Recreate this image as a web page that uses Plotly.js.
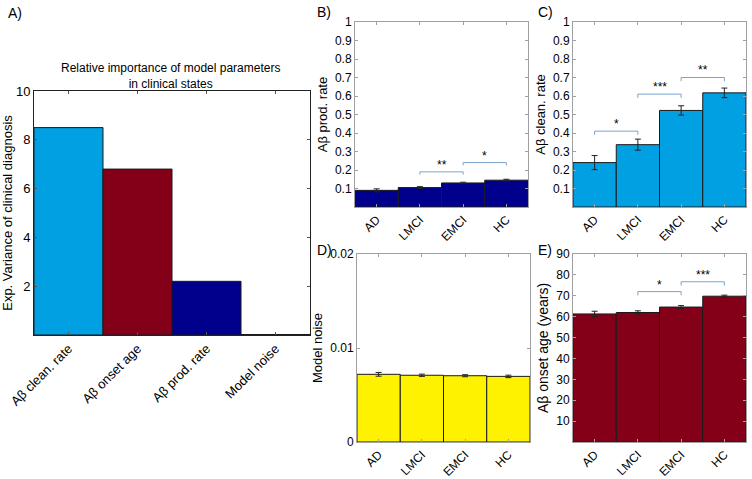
<!DOCTYPE html>
<html><head><meta charset="utf-8">
<script src="https://cdn.plot.ly/plotly-3.0.1.min.js"></script>
<style>body{margin:0;background:#fff}#chart{width:752px;height:479px}</style>
</head><body><div id="chart"></div>
<script>
// ---- data ----
const importanceLabels = ['Aβ clean. rate', 'Aβ onset age', 'Aβ prod. rate', 'Model noise'];
const importanceValues = [8.5, 6.8, 2.2, 0.02];

const groups = ['AD', 'LMCI', 'EMCI', 'HC'];

const prodRate = [0.09, 0.105, 0.13, 0.145];
const prodRateErr = [0.008, 0.005, 0.004, 0.005];
const prodSigPairs = [[1, 2], [2, 3]];
const prodSigLevel = [0.19, 0.24];
const prodSigStars = ['**', '*'];

const cleanRate = [0.24, 0.337, 0.522, 0.617];
const cleanRateErr = [0.038, 0.03, 0.025, 0.026];
const cleanSigPairs = [[0, 1], [1, 2], [2, 3]];
const cleanSigLevel = [0.41, 0.61, 0.70];
const cleanSigStars = ['*', '***', '**'];

const noise = [0.0072, 0.0071, 0.00705, 0.00698];
const noiseErr = [0.0002, 0.00012, 0.00011, 0.00013];

const onsetAge = [61.3, 62.0, 64.6, 69.8];
const onsetAgeErr = [1.3, 0.8, 0.7, 0.5];
const onsetSigPairs = [[1, 2], [2, 3]];
const onsetSigLevel = [72, 76.7];
const onsetSigStars = ['*', '***'];

// ---- layout helpers ----
const W = 752, H = 479;
const dx = (a, b) => [a / W, b / W];
const dy = (top, bottom) => [1 - bottom / H, 1 - top / H];

const cBlue = '#00a0e3', cRed = '#840018', cNavy = '#00008c', cYellow = '#fff200';
const edge = {color: '#1a1a1a', width: 1};
const fontFam = 'Liberation Sans, Arial, sans-serif';
const bracketColor = '#7aa3cf';

const traces = [];
const annotations = [];

traces.push({type: 'bar', x: importanceLabels, y: importanceValues, xaxis: 'x', yaxis: 'y',
  width: 1, marker: {color: [cBlue, cRed, cNavy, '#ffffff'], line: edge}, hoverinfo: 'none'});

function groupBars(vals, errs, color, ax, ay) {
  traces.push({type: 'bar', x: groups, y: vals, xaxis: ax, yaxis: ay, width: 1,
    marker: {color: color, line: edge},
    error_y: {type: 'data', array: errs, visible: true, color: '#222', thickness: 1, width: 3},
    hoverinfo: 'none'});
}
groupBars(prodRate, prodRateErr, cNavy, 'x2', 'y2');
groupBars(cleanRate, cleanRateErr, cBlue, 'x3', 'y3');
groupBars(noise, noiseErr, cYellow, 'x4', 'y4');
groupBars(onsetAge, onsetAgeErr, cRed, 'x5', 'y5');

function brackets(pairs, levels, stars, drop, ax, ay) {
  pairs.forEach((p, i) => {
    const y = levels[i];
    traces.push({type: 'scatter', mode: 'lines', xaxis: ax, yaxis: ay,
      x: [groups[p[0]], groups[p[0]], groups[p[1]], groups[p[1]]],
      y: [y - drop, y, y, y - drop],
      line: {color: bracketColor, width: 1}, hoverinfo: 'none', showlegend: false});
    annotations.push({xref: ax, yref: ay, x: (p[0] + p[1]) / 2, y: y, text: stars[i],
      showarrow: false, xanchor: 'center', yanchor: 'bottom', yshift: -2,
      font: {size: 12, color: '#000', family: fontFam}});
  });
}
brackets(prodSigPairs, prodSigLevel, prodSigStars, 0.015, 'x2', 'y2');
brackets(cleanSigPairs, cleanSigLevel, cleanSigStars, 0.02, 'x3', 'y3');
brackets(onsetSigPairs, onsetSigLevel, onsetSigStars, 1.8, 'x5', 'y5');

const tickFont = {size: 12, color: '#000', family: fontFam};
const titleFont = {size: 13, color: '#000', family: fontFam};
const boxAxis = {showline: true, linecolor: '#a0a0a0', linewidth: 1, mirror: 'ticks',
  ticks: 'inside', ticklen: 3, tickcolor: '#a0a0a0', showgrid: false, zeroline: false,
  tickfont: tickFont, fixedrange: true};
const xCat = Object.assign({}, boxAxis, {tickangle: -45, type: 'category', range: [-0.5, 3.5]});

function label(text, x, y) {
  return {xref: 'paper', yref: 'paper', x: x / W, y: 1 - y / H, xanchor: 'left', yanchor: 'middle',
    showarrow: false, text: text, font: {size: 14, color: '#000', family: fontFam}};
}

const layout = {
  width: W, height: H, margin: {l: 0, r: 0, t: 0, b: 0},
  paper_bgcolor: '#fff', plot_bgcolor: '#fff', showlegend: false,
  font: {family: fontFam, color: '#000'}, bargap: 0,
  xaxis: Object.assign({}, xCat, {domain: dx(34, 310), anchor: 'y', linecolor: '#222', tickcolor: '#555',
    tickfont: {size: 13, color: '#000', family: fontFam}}),
  yaxis: Object.assign({}, boxAxis, {domain: dy(91, 335), anchor: 'x', range: [0, 10],
    tickvals: [2, 4, 6, 8, 10], linecolor: '#222', tickcolor: '#555',
    tickfont: {size: 13, color: '#000', family: fontFam},
    title: {text: 'Exp. Variance of clinical diagnosis', font: titleFont, standoff: 6}}),
  xaxis2: Object.assign({}, xCat, {domain: dx(355, 528), anchor: 'y2'}),
  yaxis2: Object.assign({}, boxAxis, {domain: dy(22, 207), anchor: 'x2', range: [0, 1],
    tickvals: [0.1, 0.2, 0.3, 0.4, 0.5, 0.6, 0.7, 0.8, 0.9, 1],
    ticktext: ['0.1', '0.2', '0.3', '0.4', '0.5', '0.6', '0.7', '0.8', '0.9', '1'],
    title: {text: 'Aβ prod. rate', font: titleFont, standoff: 4}}),
  xaxis3: Object.assign({}, xCat, {domain: dx(573, 746), anchor: 'y3'}),
  yaxis3: Object.assign({}, boxAxis, {domain: dy(22, 207), anchor: 'x3', range: [0, 1],
    tickvals: [0.1, 0.2, 0.3, 0.4, 0.5, 0.6, 0.7, 0.8, 0.9, 1],
    ticktext: ['0.1', '0.2', '0.3', '0.4', '0.5', '0.6', '0.7', '0.8', '0.9', '1'],
    title: {text: 'Aβ clean. rate', font: titleFont, standoff: 4}}),
  xaxis4: Object.assign({}, xCat, {domain: dx(357, 530), anchor: 'y4'}),
  yaxis4: Object.assign({}, boxAxis, {domain: dy(254, 442), anchor: 'x4', range: [0, 0.02],
    tickvals: [0, 0.01, 0.02], ticktext: ['0', '0.01', '0.02'],
    title: {text: 'Model noise', font: titleFont, standoff: 4}}),
  xaxis5: Object.assign({}, xCat, {domain: dx(573, 746), anchor: 'y5'}),
  yaxis5: Object.assign({}, boxAxis, {domain: dy(254, 442), anchor: 'x5', range: [0, 90],
    tickvals: [10, 20, 30, 40, 50, 60, 70, 80, 90],
    title: {text: 'Aβ onset age (years)', font: {size: 14, color: '#000', family: fontFam}, standoff: 4}}),
  annotations: annotations.concat([
    {xref: 'paper', yref: 'paper', x: 170 / W, y: 1 - 76 / H, xanchor: 'center', yanchor: 'middle',
      align: 'center', showarrow: false,
      text: 'Relative importance of model parameters<br>in clinical states',
      font: {size: 12, color: '#000', family: fontFam}},
    label('A)', 6, 13), label('B)', 315, 12), label('C)', 536, 12),
    label('D)', 315, 250), label('E)', 536, 250)
  ])
};

Plotly.newPlot('chart', traces, layout, {staticPlot: true, displayModeBar: false});
</script>
</body></html>
